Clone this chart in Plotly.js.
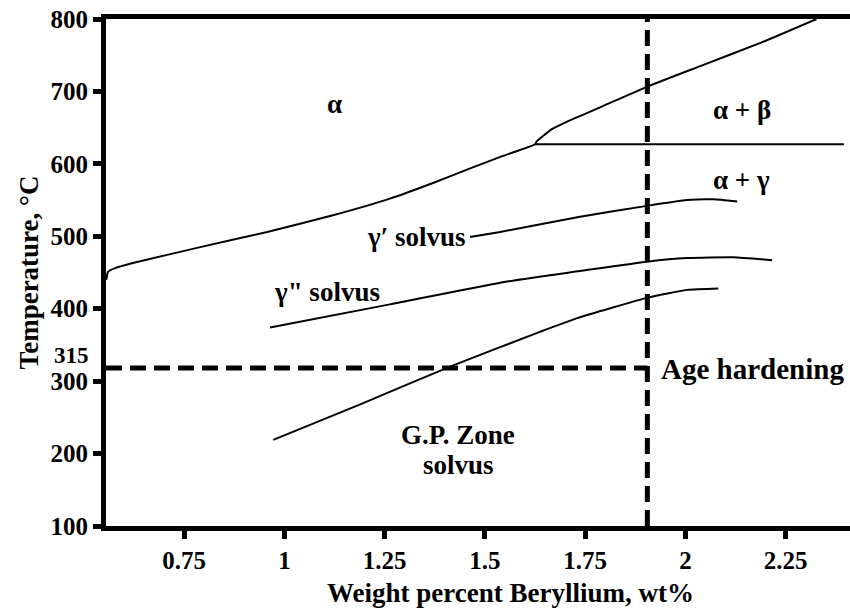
<!DOCTYPE html>
<html>
<head>
<meta charset="utf-8">
<script src="https://cdn.plot.ly/plotly-3.0.1.min.js"></script>
<style>
html,body{margin:0;padding:0;overflow:hidden;background:#fff;}
#chart{width:914px;height:614px;}
</style>
</head>
<body>
<div id="chart"></div>
<script>
// Phase boundary curves (wt% Be, temperature in °C)
const solvusAlphaX = [0.556, 0.560, 0.578, 0.622, 0.790, 0.957, 1.121, 1.263, 1.372, 1.460, 1.545, 1.625, 1.629, 1.646, 1.667, 1.704, 1.737, 1.787, 1.907, 2.037, 2.187, 2.327];
const solvusAlphaY = [440, 451, 456, 463, 485, 506, 529, 552, 574, 593, 611, 627, 631, 639, 648, 658, 666, 678, 707, 735, 767, 800];

const eutectoidX = [1.625, 2.395];
const eutectoidY = [627, 627];

const gammaPrimeX = [1.463, 1.538, 1.737, 1.904, 2.004, 2.069, 2.129];
const gammaPrimeY = [499, 506, 527, 542, 550, 551, 548];

const gammaDoublePrimeX = [0.964, 1.263, 1.538, 1.737, 1.904, 2.004, 2.119, 2.216];
const gammaDoublePrimeY = [374, 406, 436, 452, 465, 470, 471, 467];

const gpZoneX = [0.972, 1.189, 1.413, 1.637, 1.730, 1.904, 2.004, 2.082];
const gpZoneY = [219, 268, 320, 368, 387, 415, 426, 428];

// Reference lines
const ageHardeningTemp = 318;
const compositionLimit = 1.905;

// Axis settings
const xRange = [0.555, 2.57];
const yRange = [100, 800];
const xTicks = [0.75, 1, 1.25, 1.5, 1.75, 2, 2.25];
const xTickText = ['0.75', '1', '1.25', '1.5', '1.75', '2', '2.25'];
const yTicks = [100, 200, 300, 400, 500, 600, 700, 800];
const yTickText = ['100', '200', '300', '400', '500', '600', '700', '800'];

const FONT = 'Liberation Serif';

const solid = {color: '#000', width: 2, shape: 'spline', smoothing: 0.5};
const dashed = {color: '#000', width: 5, dash: '16px,8px'};

const traces = [
  {x: solvusAlphaX, y: solvusAlphaY, mode: 'lines', line: solid, hoverinfo: 'skip'},
  {x: eutectoidX, y: eutectoidY, mode: 'lines', line: {color: '#000', width: 2}, hoverinfo: 'skip'},
  {x: gammaPrimeX, y: gammaPrimeY, mode: 'lines', line: solid, hoverinfo: 'skip'},
  {x: gammaDoublePrimeX, y: gammaDoublePrimeY, mode: 'lines', line: solid, hoverinfo: 'skip'},
  {x: gpZoneX, y: gpZoneY, mode: 'lines', line: solid, hoverinfo: 'skip'},
  {x: [compositionLimit, compositionLimit], y: yRange, mode: 'lines', line: dashed, hoverinfo: 'skip'},
  {x: [xRange[0], compositionLimit], y: [ageHardeningTemp, ageHardeningTemp], mode: 'lines', line: dashed, hoverinfo: 'skip'}
];

function lab(text, x, y, anchor, size) {
  return {text: '<b>' + text + '</b>', x: x, y: y, xref: 'x', yref: 'y',
    xanchor: anchor || 'center', yanchor: 'middle', showarrow: false,
    font: {family: FONT, size: size || 27, color: '#000'}};
}

const bold = arr => arr.map(t => '<b>' + t + '</b>');

const annotations = [
  lab('α', 1.126, 682),
  lab('α + β', 2.141, 675),
  lab('α + γ', 2.141, 578),
  lab('γ′ solvus', 1.458, 499, 'right'),
  lab('γ" solvus', 1.107, 423),
  lab('G.P. Zone', 1.433, 226),
  lab('solvus', 1.433, 184),
  lab('Age hardening', 1.934, 317, 'left', 29),
  {text: '<b>315</b>', xref: 'paper', x: 0, yref: 'y', y: 335, xanchor: 'right', yanchor: 'middle',
   xshift: -15, showarrow: false, font: {family: FONT, size: 23, color: '#000'}},
  {text: '<b>Weight percent Beryllium, wt%</b>', xref: 'paper', x: 0.5, yref: 'paper', y: 0,
   xanchor: 'center', yanchor: 'middle', yshift: -67, showarrow: false,
   font: {family: FONT, size: 27, color: '#000'}}
];

const layout = {
  width: 914, height: 614,
  margin: {l: 106, r: 0, t: 19, b: 88},
  paper_bgcolor: '#fff', plot_bgcolor: '#fff',
  showlegend: false,
  font: {family: FONT, color: '#000'},
  xaxis: {
    range: xRange, tickvals: xTicks, ticktext: bold(xTickText),
    showgrid: false, zeroline: false, showline: true, linecolor: '#000', linewidth: 5,
    mirror: true, ticks: 'outside', ticklen: 8, tickwidth: 5, tickcolor: '#000',
    tickfont: {family: FONT, size: 25, color: '#000'}
  },
  yaxis: {
    range: yRange, tickvals: yTicks, ticktext: bold(yTickText),
    showgrid: false, zeroline: false, showline: true, linecolor: '#000', linewidth: 5,
    ticks: 'outside', ticklen: 8, tickwidth: 5, tickcolor: '#000',
    tickfont: {family: FONT, size: 25, color: '#000'},
    title: {text: '<b>Temperature, °C</b>', font: {family: FONT, size: 27, color: '#000'}, standoff: 6}
  },
  annotations: annotations
};

Plotly.newPlot('chart', traces, layout, {displayModeBar: false, staticPlot: true});
</script>
</body>
</html>
